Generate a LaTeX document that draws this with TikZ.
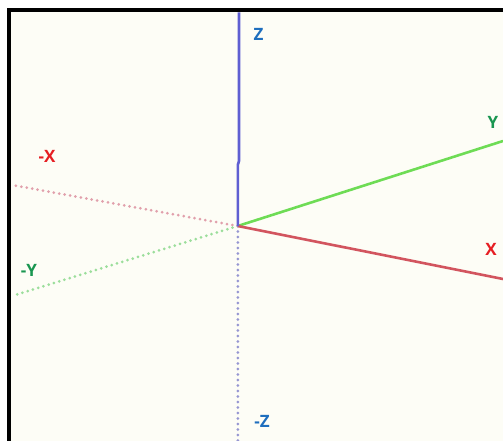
\documentclass[tikz,border=0pt]{standalone}
\usepackage{fontspec}
\setmainfont{Open Sans}
\definecolor{bgc}{RGB}{253,253,246}
\definecolor{zline}{RGB}{95,95,210}
\definecolor{zlab}{RGB}{30,110,190}
\definecolor{xline}{RGB}{210,85,95}
\definecolor{xlab}{RGB}{230,30,35}
\definecolor{yline}{RGB}{110,220,85}
\definecolor{ylab}{RGB}{25,150,80}
\definecolor{nxline}{RGB}{225,160,172}
\definecolor{nyline}{RGB}{155,222,155}
\definecolor{nzline}{RGB}{150,150,210}
\begin{document}
\begin{tikzpicture}[x=1pt,y=-1pt,
  axislab/.style={font=\fontsize{17}{19}\selectfont\bfseries, inner sep=0pt},
  posaxis/.style={line width=2.6pt},
  negaxis/.style={line width=3pt, line cap=round, dash pattern=on 0pt off 5.5pt}]
\useasboundingbox (0,0) rectangle (503,441);
\fill[white] (0,0) rectangle (503,441);
\fill[bgc] (9,10.5) rectangle (503,441);
% frame
\draw[line width=4pt] (9,441) -- (9,10.5) -- (503,10.5);
% coordinates
\coordinate (O) at (237.8,226);
\coordinate (Ztop) at (239,12.5);
\coordinate (Zjoga) at (239,161);
\coordinate (Zjogb) at (237.8,165);
\coordinate (Zbot) at (237.8,441);
\coordinate (Xend) at (503,279);
\coordinate (Yend) at (503,141);
\coordinate (NXend) at (12,185);
\coordinate (NYend) at (12,296);
% negative axes
\draw[negaxis, nxline] (O) -- (NXend);
\draw[negaxis, nyline] (O) -- (NYend);
\draw[negaxis, nzline] (O) -- (Zbot);
% positive axes
\draw[posaxis, yline] (O) -- (Yend);
\draw[posaxis, xline] (O) -- (Xend);
\draw[posaxis, zline] (O) -- (Zjogb) -- (Zjoga) -- (Ztop);
% labels
\node[axislab, text=zlab] (lz) at (258.5,34) {Z};
\node[axislab, text=zlab] (lnz) at (262,421) {-Z};
\node[axislab, text=xlab] (lx) at (491,249) {X};
\node[axislab, text=xlab] (lnx) at (47,156) {-X};
\node[axislab, text=ylab] (ly) at (493,122) {Y};
\node[axislab, text=ylab] (lny) at (29,270) {-Y};
\end{tikzpicture}
\end{document}
